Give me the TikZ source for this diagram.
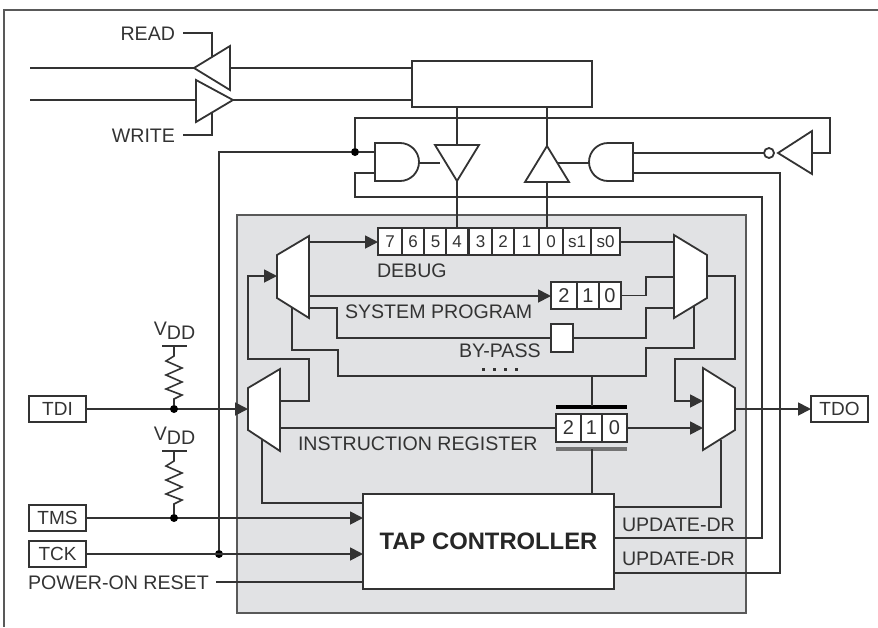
\documentclass[tikz,border=0pt]{standalone}
\usepackage{fontspec}
\setmainfont{Liberation Sans}
\usetikzlibrary{arrows.meta}
\definecolor{ink}{HTML}{333333}
\definecolor{txt}{HTML}{333333}
\definecolor{panel}{HTML}{E1E2E4}
\tikzset{
  wire/.style={draw=ink,line width=1.8pt,line join=miter},
  awire/.style={wire,-{Triangle[length=13pt,width=13pt]}},
  part/.style={draw=ink,line width=1.8pt,fill=white,line join=miter},
  boxn/.style={part,rectangle,inner sep=0pt,outer sep=0pt,text=txt,font=\fontsize{19}{19}\selectfont},
  cella/.style={boxn,minimum height=27pt,font=\fontsize{17}{17}\selectfont},
  cellb/.style={boxn,minimum height=27pt,font=\fontsize{20}{20}\selectfont},
  lbl/.style={inner sep=0pt,outer sep=0pt,text=txt,font=\fontsize{19.6}{20}\selectfont},
  jdot/.style={circle,fill=black,inner sep=0pt,outer sep=0pt,minimum size=8pt},
  dotmark/.style={rectangle,fill=ink,inner sep=0pt,outer sep=0pt,minimum size=3pt}
}
\begin{document}
\begin{tikzpicture}[x=1pt,y=-1pt]
\useasboundingbox (0,0) rectangle (878,627);
% frame
\draw[draw=black!65,line width=1.6pt] (878,10) -- (4,10) -- (4,627);
% panel
\draw[draw=black!65,fill=panel,line width=1.8pt] (237,215) rectangle (746,613);
% boxes
\node[boxn,minimum width=180pt,minimum height=46pt] (mem) at (502,84) {};
\node[boxn,minimum width=251pt,minimum height=95pt,font=\bfseries\fontsize{23.8}{24}\selectfont,text=black!85] (tap) at (488.5,541.5) {TAP CONTROLLER};
\node[boxn,minimum width=57pt,minimum height=26pt] (tdi) at (57.5,409) {TDI};
\node[boxn,minimum width=57pt,minimum height=26pt] (tms) at (57.5,518) {TMS};
\node[boxn,minimum width=57pt,minimum height=26pt] (tck) at (57.5,554) {TCK};
\node[boxn,minimum width=57pt,minimum height=26pt] (tdo) at (839.5,409) {TDO};
% labels
\node[lbl,anchor=base east] (lread) at (175,40) {READ};
\node[lbl,anchor=base east] (lwrite) at (175,142) {WRITE};
\node[lbl,anchor=base west] (ldebug) at (377,277) {DEBUG};
\node[lbl,anchor=base west] (lsys) at (345,318) {SYSTEM PROGRAM};
\node[lbl,anchor=base west] (lby) at (459,357) {BY-PASS};
\node[lbl,anchor=base west] (lir) at (298,450) {INSTRUCTION REGISTER};
\node[lbl,anchor=base west] (lpor) at (28,589) {POWER-ON RESET};
\node[lbl,anchor=base west] (lup1) at (622,531) {UPDATE-DR};
\node[lbl,anchor=base west] (lup2) at (622,565) {UPDATE-DR};
\node[lbl,anchor=base] (vdd1) at (174.5,335) {V\raisebox{-0.25em}{DD}};
\node[lbl,anchor=base] (vdd2) at (174.5,440) {V\raisebox{-0.25em}{DD}};
\foreach \n/\x in {a/483,b/494,c/505,d/516}{\node[dotmark] (dot\n) at (\x,369) {};}
% pins
\coordinate (rctl) at (183,33);
\coordinate (wctl) at (183,135);
\coordinate (bus1) at (30,68);
\coordinate (bus2) at (30,100);
\coordinate (rtip) at (194,68);
\coordinate (rbase) at (230,68);
\coordinate (wbase) at (196,100);
\coordinate (wtip) at (233,100);
\coordinate (andLa) at (375,152);
\coordinate (andLb) at (375,173);
\coordinate (andLo) at (419,163);
\coordinate (andRa) at (633,153);
\coordinate (andRb) at (633,173);
\coordinate (andRo) at (589,163);
\coordinate (invb) at (764,153);
\coordinate (invin) at (812,153);
\coordinate (m1out1) at (309,242);
\coordinate (m1in) at (277,276);
\coordinate (m1o2) at (309,296);
\coordinate (m1o3) at (309,308);
\coordinate (m1s) at (292,307);
\coordinate (m2o1) at (280,401);
\coordinate (m2o2) at (280,428);
\coordinate (m2in) at (248,409);
\coordinate (m2s) at (262,439);
\coordinate (m3i1) at (703,401);
\coordinate (m3i2) at (703,428);
\coordinate (m3o) at (735,409);
\coordinate (m3s) at (721,440);
\coordinate (m4i1) at (674,242);
\coordinate (m4i2) at (674,277);
\coordinate (m4i3) at (674,308);
\coordinate (m4o) at (707,276);
\coordinate (m4s) at (694,306);
\coordinate (tapT) at (592,494);
% registers
\foreach \n/\t/\c/\w in {d7/7/390/24,d6/6/413/22,d5/5/435.5/23,d4/4/457/22,d3/3/480.5/23,d2/2/503/22,d1/1/526.5/25,d0/0/551/24,ds1/s1/577/28,ds0/s0/605.5/29}{
  \node[cella,minimum width=\w pt] (\n) at (\c,241.5) {\t};}
\coordinate (d0pin) at (547,228);
\foreach \n/\t/\c/\w in {p2/2/564/26,p1/1/588/22,p0/0/610/22}{
  \node[cellb,minimum width=\w pt] (\n) at (\c,295.5) {\t};}
\node[boxn,minimum width=22pt,minimum height=28pt] (byp) at (562,338) {};
\foreach \n/\t/\c/\w in {i2/2/568.5/25,i1/1/591.5/21,i0/0/614.5/25}{
  \node[cellb,minimum width=\w pt,minimum height=28pt] (\n) at (\c,428) {\t};}
\node[rectangle,fill=black,inner sep=0pt,outer sep=0pt,minimum width=71pt,minimum height=3.4pt] (irtop) at (591.5,407) {};
\node[rectangle,fill=black!55,inner sep=0pt,outer sep=0pt,minimum width=71pt,minimum height=3.4pt] (irbot) at (591.5,449) {};
% wires: bus & control
\draw[wire] (rctl) -- ++(29,0) -- (212,57);
\draw[wire] (wctl) -- ++(29,0) -- (212,112);
\draw[wire] (bus1) -- (rtip);
\draw[wire] (bus2) -- (wbase);
\draw[wire] (rbase) -- (rbase -| mem.west);
\draw[wire] (wtip) -- (wtip -| mem.west);
% feedback
\node[jdot] (j0) at (355,152) {};
\node[jdot] (jck) at (219,554) {};
\draw[wire] (j0) -- (355,118) -- (830,118) -- (830,153) -- (invin);
\draw[wire] (jck) -- (219,152) -- (j0) -- (andLa);
\draw[wire] (andLb) -- (355,173) -- (355,197) -- (762,197) -- (762,538) -- (614,538);
\draw[wire] (andRa) -- (invb);
\draw[wire] (andRb) -- (780,173) -- (780,573) -- (614,573);
\draw[wire] (mem.south -| d4.north) -- (d4.north);
\draw[wire] (mem.south -| d0pin) -- (d0pin);
\draw[wire] (andLo) -- (440,163);
\draw[wire] (andRo) -- (558,163);
% gates
\draw[part] (230,46) -- (194,68) -- (230,90) -- cycle;
\draw[part] (196,80) -- (233,100) -- (196,122) -- cycle;
\draw[part] (375,143) -- (400,143) arc[start angle=-90,end angle=90,radius=19] -- (375,181) -- cycle;
\draw[part] (633,143) -- (608,143) arc[start angle=-90,end angle=-270,radius=19] -- (633,181) -- cycle;
\draw[part] (435,145) -- (479,145) -- (457,181) -- cycle;
\draw[part] (525,182) -- (569,182) -- (547,146) -- cycle;
\draw[part] (812,131) -- (812,174) -- (778,153) -- cycle;
\draw[part] (769,153) circle[radius=5];
% inner wires
\draw[awire] (m1out1) -- (m1out1 -| d7.west);
\draw[awire] (m2o1) -- (309,401) -- (309,359) -- (248,359) -- (248,276) -- (m1in);
\draw[awire] (m1o2) -- (m1o2 -| p2.west);
\draw[wire] (m1o3) -- (337,308) -- (337,338) -- (byp.west);
\draw[wire] (m1s) -- (292,350) -- (338,350) -- (338,376) -- (646,376) -- (646,348) -- (694,348) -- (m4s);
\draw[wire] (p0.east) -- (646,295.5) -- (646,277) -- (m4i2);
\draw[wire] (byp.east) -- (646,338) -- (646,308) -- (m4i3);
\draw[wire] (ds0.east |- m4i1) -- (m4i1);
\draw[awire] (m4o) -- (735,276) -- (735,359) -- (675,359) -- (675,401) -- (m3i1);
\draw[wire] (m2o2) -- (i2.west);
\draw[awire] (i0.east) -- (m3i2);
\draw[wire] (592,376) -- (592,406);
\draw[wire] (592,449) -- (tapT);
\draw[awire] (m3o) -- (tdo.west);
\draw[wire] (m2s) -- (262,503) -- (tap.west |- 0,503);
\draw[wire] (m3s) -- (721,507) -- (tap.east |- 0,507);
\draw[awire] (tdi.east) -- (m2in);
\draw[awire] (tms.east) -- (tms.east -| tap.west);
\draw[awire] (tck.east) -- (tck.east -| tap.west);
\draw[wire] (216,582) -- (tap.west |- 0,582);
% muxes
\draw[part] (309,236) -- (309,318) -- (277,298) -- (277,255) -- cycle;
\draw[part] (280,369) -- (280,451) -- (248,430) -- (248,388) -- cycle;
\draw[part] (674,235) -- (674,318) -- (707,298) -- (707,255) -- cycle;
\draw[part] (703,368) -- (703,450) -- (735,430) -- (735,388) -- cycle;
% pull-ups
\node[jdot] (jdi) at (174,409) {};
\node[jdot] (jms) at (174,518) {};
\coordinate (r1t) at (174,346);
\coordinate (r2t) at (174,451);
\draw[wire] (162,346) -- (187,346);
\draw[wire] (162,451) -- (187,451);
\draw[wire,line width=1.6pt] (r1t) -- (174,356) -- (166,361) -- (182,368) -- (166,375) -- (182,382) -- (166,389) -- (182,395) -- (174,399) -- (jdi);
\draw[wire,line width=1.6pt] (r2t) -- (174,461) -- (166,466) -- (182,473) -- (166,480) -- (182,487) -- (166,494) -- (182,500) -- (174,504) -- (jms);
\end{tikzpicture}
\end{document}
